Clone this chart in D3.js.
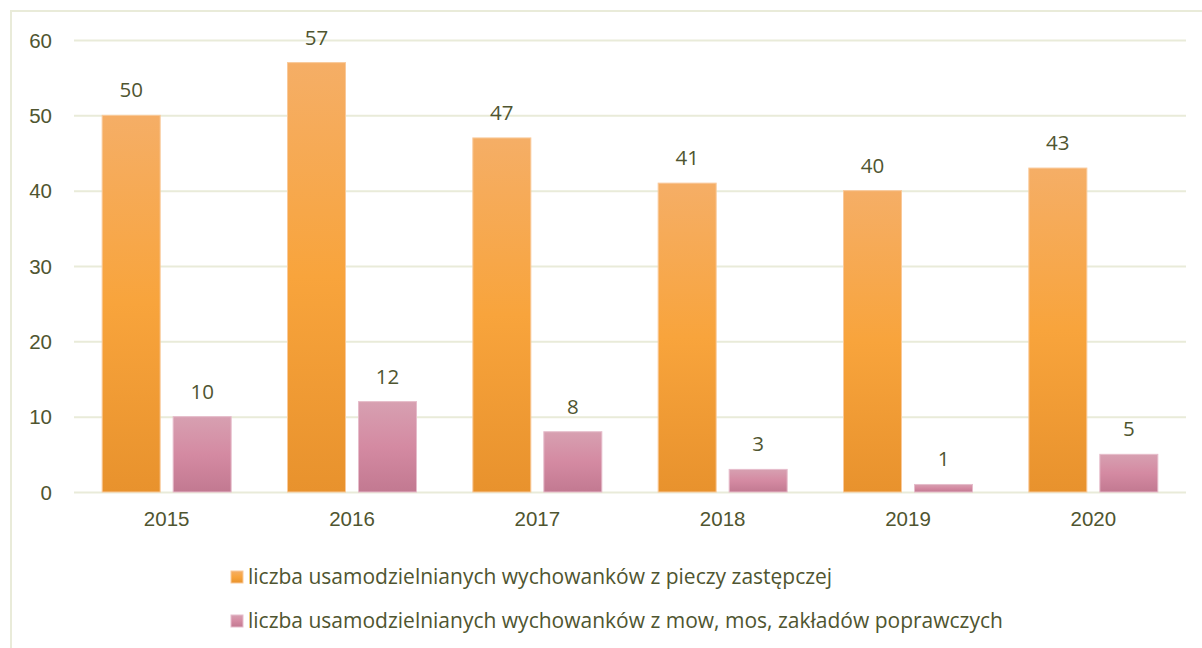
<!DOCTYPE html>
<html>
<head>
<meta charset="utf-8">
<script src="https://cdn.jsdelivr.net/npm/d3@7"></script>
<style>
  body { margin: 0; background: #fff; }
  svg { display: block; font-family: "Open Sans", sans-serif; }
</style>
</head>
<body>
<svg id="chart" width="1202" height="648"></svg>
<script>
// data
const years = ["2015", "2016", "2017", "2018", "2019", "2020"];
const pieczaValues = [50, 57, 47, 41, 40, 43];
const mowValues = [10, 12, 8, 3, 1, 5];
const yTicks = [0, 10, 20, 30, 40, 50, 60];
const seriesNames = [
  "liczba usamodzielnianych wychowanków z pieczy zastępczej",
  "liczba usamodzielnianych wychowanków z mow, mos, zakładów poprawczych"
];

const svg = d3.select("#chart");
const margin = { left: 74, right: 16, top: 40, bottom: 156 };
const width = 1202, height = 648;
const textColor = "#4f5530";
const gridColor = "#e9ebd9";
const fontSize = 20.5;

// frame
svg.append("path")
  .attr("d", `M11,648 V11 H1202`)
  .attr("fill", "none")
  .attr("stroke", gridColor)
  .attr("stroke-width", 2);

// gradients
const defs = svg.append("defs");
function grad(id, stops) {
  const g = defs.append("linearGradient").attr("id", id)
    .attr("x1", 0).attr("y1", 0).attr("x2", 0).attr("y2", 1);
  stops.forEach(s => g.append("stop").attr("offset", s[0]).attr("stop-color", s[1]));
}
grad("gOrange", [[0, "#f5ae66"], [0.5, "#f8a43c"], [1, "#e8922d"]]);
grad("gPink", [[0, "#d7a0b1"], [0.5, "#d48aa2"], [1, "#c27991"]]);

const x = d3.scaleBand().domain(years).range([margin.left, width - margin.right]);
const y = d3.scaleLinear().domain([0, 60]).range([height - margin.bottom, margin.top]);
const barW = 58, gap = 13;

// grid + y axis
const yAxis = d3.axisLeft(y).tickValues(yTicks).tickSize(-(width - margin.left - margin.right)).tickPadding(22);
const gy = svg.append("g").attr("transform", `translate(${margin.left},0)`).call(yAxis);
gy.select(".domain").remove();
gy.selectAll(".tick line").attr("stroke", gridColor).attr("stroke-width", 2);
gy.selectAll(".tick text").attr("dy", "0.35em")
  .style("font-size", fontSize + "px").attr("fill", textColor);

// x axis labels
const xAxis = d3.axisBottom(x).tickSize(0).tickPadding(19);
const gx = svg.append("g").attr("transform", `translate(0,${y(0)})`).call(xAxis);
gx.select(".domain").remove();
gx.selectAll(".tick text").style("font-size", fontSize + "px").attr("fill", textColor);

const series = [
  { values: pieczaValues, fill: "url(#gOrange)", stroke: "#f9c99a", off: -(gap / 2 + barW) },
  { values: mowValues, fill: "url(#gPink)", stroke: "#e6bccb", off: gap / 2 }
];

series.forEach(s => {
  const g = svg.append("g");
  g.selectAll("rect").data(years).join("rect")
    .attr("x", d => x(d) + x.bandwidth() / 2 + s.off)
    .attr("y", (d, i) => y(s.values[i]))
    .attr("width", barW)
    .attr("height", (d, i) => y(0) - y(s.values[i]))
    .attr("fill", s.fill)
    .attr("stroke", s.stroke)
    .attr("stroke-width", 1);
  g.selectAll("text").data(years).join("text")
    .attr("x", d => x(d) + x.bandwidth() / 2 + s.off + barW / 2)
    .attr("y", (d, i) => y(s.values[i]) - 18)
    .attr("text-anchor", "middle")
    .attr("fill", textColor)
    .style("font-size", fontSize + "px")
    .text((d, i) => s.values[i]);
});

// legend
const legend = svg.append("g");
const legendFills = ["url(#gOrange)", "url(#gPink)"];
seriesNames.forEach((name, i) => {
  const ly = 577 + i * 44;
  legend.append("rect")
    .attr("x", 231).attr("y", ly - 6).attr("width", 12).attr("height", 12)
    .attr("fill", legendFills[i]).attr("stroke", series[i].stroke);
  legend.append("text")
    .attr("x", 248).attr("y", ly).attr("dy", "0.35em")
    .attr("fill", textColor).style("font-size", "21px")
    .text(name);
});
</script>
</body>
</html>
